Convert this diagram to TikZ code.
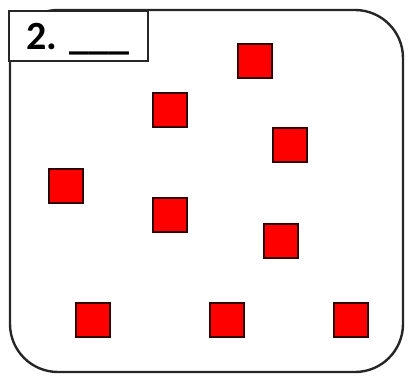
\documentclass[tikz,border=0pt]{standalone}
\usepackage{fontspec}
\setmainfont{Carlito}
\usepackage{tikz}
\usetikzlibrary{positioning}

\tikzset{
  redsq/.style={draw=black!80!red, fill=red, line width=1.4pt, minimum size=34pt, inner sep=0pt},
  frame/.style={draw=black!85, line width=2.4pt, rounded corners=48pt},
  labelbox/.style={draw=black!85, fill=white, line width=2pt, minimum width=139pt, minimum height=50pt, inner sep=0pt},
}

\begin{document}
\begin{tikzpicture}[x=1pt,y=-1pt]
\useasboundingbox (0,0) rectangle (409,377);
% outer frame
\draw[frame] (10,10) rectangle (403,372);
% label box
\node[labelbox, anchor=north west] (label) at (8,10) {};
\node[anchor=base west, inner sep=0pt, font=\bfseries\fontsize{40}{40}\selectfont] (num) at (26,50) {2. \_\_\_};
% red squares
\foreach \x/\y [count=\i] in {255/61,170/110,290/145,66/186,170/215,281/241,
    93/320,227/320,351/320}
    \node[redsq] (sq\i) at (\x,\y) {};
\end{tikzpicture}
\end{document}
